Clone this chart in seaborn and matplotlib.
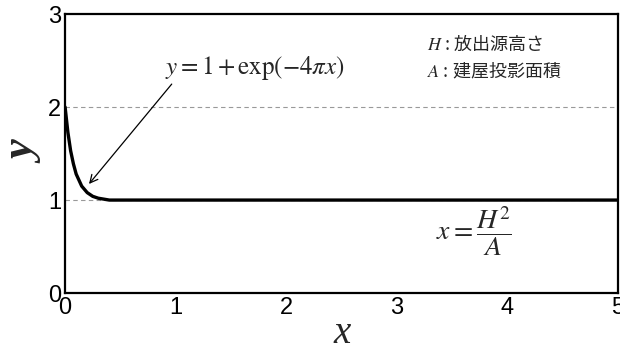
import matplotlib
matplotlib.use("Agg")
import matplotlib.pyplot as plt
import pandas as pd
import seaborn as sns

# curve values
x_vals = [0.0, 0.025, 0.05, 0.075, 0.1, 0.15, 0.2, 0.25, 0.3, 0.35, 0.4, 0.5, 1.0, 2.0, 3.0, 4.0, 5.0]
y_vals = [2.0, 1.73, 1.53, 1.39, 1.28, 1.15, 1.08, 1.04, 1.02, 1.01, 1.0, 1.0, 1.0, 1.0, 1.0, 1.0, 1.0]
x_ticks = [0, 1, 2, 3, 4, 5]
y_ticks = [0, 1, 2, 3]
grid_levels = [1, 2]
legend_lines = ["$H$ : 放出源高さ", "$A$ : 建屋投影面積"]

df = pd.DataFrame({"x": x_vals, "y": y_vals})

sns.set_style("white")
plt.rcParams["mathtext.fontset"] = "stix"
plt.rcParams["font.family"] = ["Liberation Sans", "DejaVu Sans"]

fig = plt.figure(figsize=(6.2, 3.51), dpi=100)
ax = fig.add_axes([0.105, 0.165, 0.892, 0.795])

for g in grid_levels:
    ax.axhline(g, color="#999999", lw=0.8, ls=(0, (4, 3)), zorder=1)

sns.lineplot(data=df, x="x", y="y", color="black", lw=2.4, ax=ax, zorder=3)

ax.set_xlim(0, 5)
ax.set_ylim(0, 3)
ax.set_xticks(x_ticks)
ax.set_yticks(y_ticks)
ax.tick_params(direction="in", length=4, width=0.8, labelsize=17, pad=3, colors="black")
for s in ax.spines.values():
    s.set_color("black")
    s.set_linewidth(1.6)

ax.set_xlabel("x", fontsize=28, family="Liberation Serif", style="italic", labelpad=-3)
ax.set_ylabel("y", fontsize=32, family="Liberation Serif", style="italic",
              fontweight="bold", labelpad=2)

ax.annotate("", xy=(0.2, 1.15), xytext=(0.98, 2.27),
            arrowprops=dict(arrowstyle="->", color="black", lw=0.9, mutation_scale=14))
ax.text(0.9, 2.42, r"$y = 1 + \mathrm{exp}(-4\pi x)$", fontsize=18, va="center", ha="left")
ax.text(3.35, 0.67, r"$x = \dfrac{H^{2}}{A}$", fontsize=20, va="center", ha="left")

ax.text(3.27, 2.68, legend_lines[0], fontsize=13, va="center", ha="left",
        family=["Noto Sans CJK JP", "DejaVu Sans"])
ax.text(3.27, 2.38, legend_lines[1], fontsize=13, va="center", ha="left",
        family=["Noto Sans CJK JP", "DejaVu Sans"])

fig.savefig("out.png", dpi=100)
